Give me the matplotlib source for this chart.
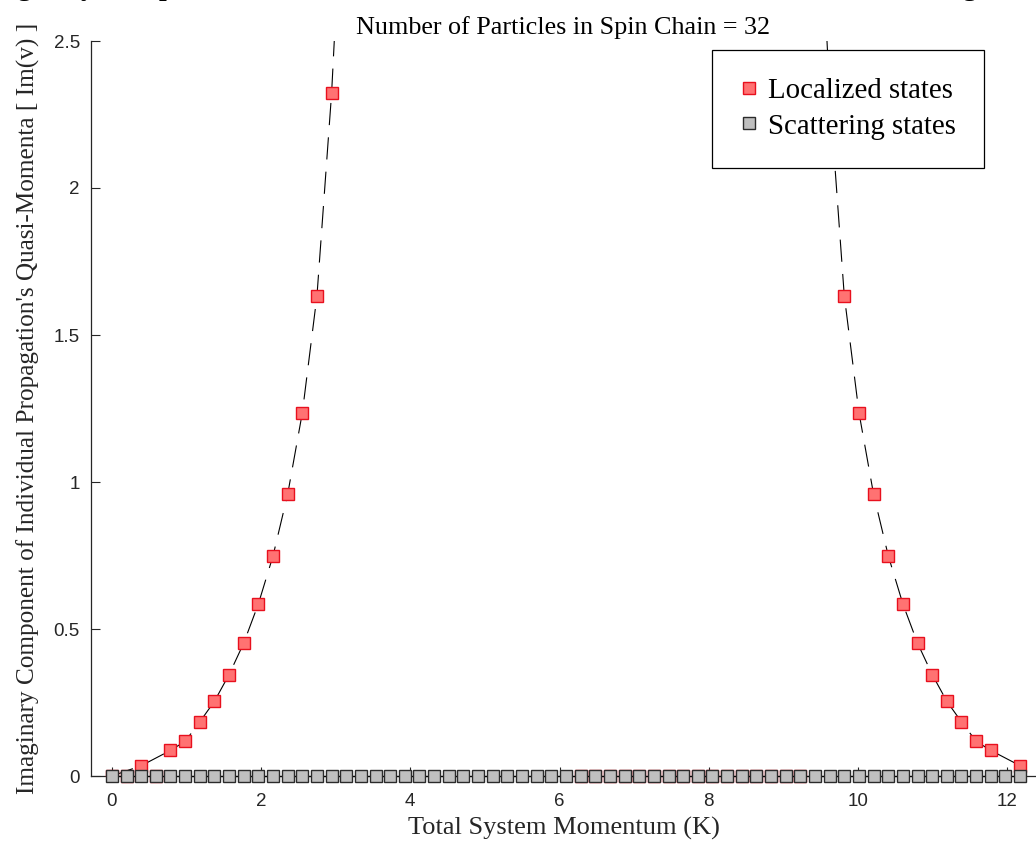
import numpy as np
import matplotlib
matplotlib.use("Agg")
import matplotlib.pyplot as plt
from matplotlib.ticker import FuncFormatter

# total momentum K = 2*pi*n/32 for n = 0..62
K = [0.000, 0.196, 0.393, 0.589, 0.785, 0.982, 1.178, 1.374, 1.571, 1.767,
     1.963, 2.160, 2.356, 2.553, 2.749, 2.945, 3.142, 3.338, 3.534, 3.731,
     3.927, 4.123, 4.320, 4.516, 4.712, 4.909, 5.105, 5.301, 5.498, 5.694,
     5.890, 6.087, 6.283, 6.480, 6.676, 6.872, 7.069, 7.265, 7.461, 7.658,
     7.854, 8.050, 8.247, 8.443, 8.639, 8.836, 9.032, 9.228, 9.425, 9.621,
     9.817, 10.014, 10.210, 10.407, 10.603, 10.799, 10.996, 11.192, 11.388,
     11.585, 11.781, 11.977, 12.174]

# scattering states: Im(v) is zero everywhere
scatter_im = [0.0] * len(K)

# localized states, left branch (rising) and right branch (falling)
loc_left_K = [0.000, 0.393, 0.785, 0.982, 1.178, 1.374, 1.571, 1.767, 1.963,
              2.160, 2.356, 2.553, 2.749, 2.945, 3.142]
loc_left_im = [0.0, 0.035, 0.087, 0.118, 0.184, 0.254, 0.345, 0.452, 0.585,
               0.749, 0.958, 1.236, 1.634, 2.322, 3.3]
loc_right_K = [9.425, 9.621, 9.817, 10.014, 10.210, 10.407, 10.603, 10.799,
               10.996, 11.192, 11.388, 11.585, 11.781, 12.174]
loc_right_im = [3.3, 2.322, 1.634, 1.236, 0.958, 0.749, 0.585, 0.452, 0.345,
                0.254, 0.184, 0.118, 0.087, 0.035]

# localized states sitting on the axis (hidden under the grey squares)
loc_zero_K = [0.196, 0.589, 6.283, 6.480, 6.676, 6.872, 7.069, 7.265, 7.461,
              7.658, 7.854, 8.050, 8.247, 8.443, 8.639, 8.836, 9.032, 9.228]
loc_zero_im = [0.0] * len(loc_zero_K)

serif = ["Liberation Serif", "DejaVu Serif"]
plt.rcParams["font.family"] = ["Liberation Sans", "DejaVu Sans"]

fig = plt.figure(figsize=(10.36, 8.46), dpi=100)
ax = fig.add_axes([91 / 1036, 70 / 846, 945 / 1036, 735 / 846])

red_face = "#ff7272"
red_edge = "#e8101e"
grey_face = "#bfbfbf"
grey_edge = "#2b2b2b"
ms = 8.6

ax.plot(loc_zero_K, loc_zero_im, linestyle="none", marker="s", ms=ms,
        mfc=red_face, mec=red_edge, mew=1.0, zorder=2, clip_on=False)

for xs, ys in [(loc_left_K, loc_left_im), (loc_right_K, loc_right_im)]:
    ax.plot(xs, ys, color="black", lw=0.8, dashes=(20, 11), zorder=2)
    ax.plot(xs, ys, linestyle="none", marker="s", ms=ms,
            mfc=red_face, mec=red_edge, mew=1.0, zorder=3)

ax.plot(K, scatter_im, color="black", lw=0.9, zorder=3, clip_on=False)
ax.plot(K, scatter_im, linestyle="none", marker="s", ms=ms,
        mfc=grey_face, mec=grey_edge, mew=1.0, zorder=4, clip_on=False)

# legend-only handles
h_loc, = ax.plot([], [], linestyle="none", marker="s", ms=ms,
                 mfc=red_face, mec=red_edge, mew=1.0)
h_sc, = ax.plot([], [], linestyle="none", marker="s", ms=ms,
                mfc=grey_face, mec=grey_edge, mew=1.0)

ax.set_xlim(-0.28, 12.387)
ax.set_ylim(0, 2.5)
ax.set_xticks([0, 2, 4, 6, 8, 10, 12])
ax.set_yticks([0, 0.5, 1, 1.5, 2, 2.5])
ax.yaxis.set_major_formatter(FuncFormatter(lambda v, p: f"{v:g}"))

for side in ["top", "right"]:
    ax.spines[side].set_visible(False)
for side in ["left", "bottom"]:
    ax.spines[side].set_color("#262626")
    ax.spines[side].set_linewidth(0.9)
ax.tick_params(direction="in", length=6.5, width=0.8, color="#262626",
               labelsize=13.5, labelcolor="#262626")
ax.tick_params(axis="x", pad=12)
ax.tick_params(axis="y", pad=8)

ax.set_xlabel("Total System Momentum (K)", family=serif, fontsize=19,
              color="#262626", labelpad=5)
ax.set_ylabel("Imaginary Component of Individual Propagation's Quasi-Momenta [ Im(v) ]",
              family=serif, fontsize=18.2, color="#262626", labelpad=10)
ax.set_title("Number of Particles in Spin Chain = 32", family=serif,
             fontsize=18.8, pad=5)

# bold main title, cut off by the top edge of the image
fig.text(0.535, 1 + 5.0 / 846,
         "Imaginary Component of Individual Momenta vs Total Momentum Calculated Using Bethe Ansatz",
         family=serif, fontsize=20, fontweight="bold", ha="center", va="baseline")

leg = ax.legend([h_loc, h_sc], ["Localized states", "Scattering states"],
                loc="upper left", bbox_to_anchor=(0.657, 0.988),
                prop={"family": serif, "size": 20.8}, fancybox=False,
                edgecolor="black", framealpha=1, borderpad=0.97,
                handlelength=0.6, handletextpad=0.39, labelspacing=0.32,
                borderaxespad=0)
leg.get_frame().set_linewidth(0.9)
leg.set_zorder(10)

fig.savefig("out.png", dpi=100)
